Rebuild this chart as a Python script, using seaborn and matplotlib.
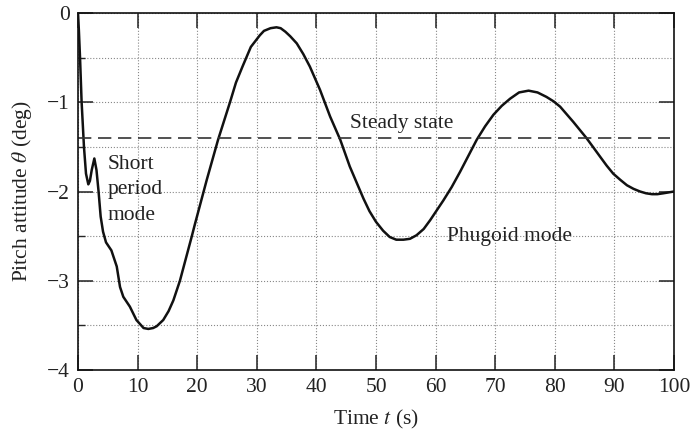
import numpy as np
import pandas as pd
import matplotlib
matplotlib.use("Agg")
import matplotlib.pyplot as plt
import seaborn as sns
from matplotlib.ticker import MultipleLocator

# values
time_s = [0, 0.15, 0.34, 0.6, 1.0, 1.34, 1.73, 2.0, 2.3, 2.74, 3.1, 3.45, 3.8,
          4.2, 4.7, 5.6, 6.5, 7.05, 7.6, 8.7, 9.8, 11.0, 11.8, 12.6, 13.2,
          14.3, 15.2, 16.0, 17.1, 17.7, 19.1, 19.6, 21.6, 23.5, 25.5, 26.5,
          27.6, 29.0, 30.5, 31.2, 32.3, 33.3, 34.0, 34.8, 35.6, 36.7, 37.8,
          38.9, 40.6, 42.3, 44.0, 45.6, 47.9, 48.9, 50.0, 51.2, 52.3, 53.4,
          54.6, 55.7, 56.8, 58.0, 59.1, 61.3, 62.7, 64.1, 65.5, 66.9, 68.3,
          69.7, 71.1, 72.5, 74.0, 75.6, 77.1, 78.6, 79.8, 80.9, 83.1, 85.3,
          86.4, 87.6, 88.7, 89.8, 91.0, 92.1, 93.2, 94.3, 95.3, 96.3, 97.2,
          98.2, 99.1, 100]
pitch_deg = [0, -0.2, -0.50, -0.99, -1.50, -1.80, -1.92, -1.88, -1.76, -1.63,
             -1.76, -2.00, -2.28, -2.45, -2.57, -2.66, -2.84, -3.07, -3.18,
             -3.29, -3.44, -3.53, -3.54, -3.53, -3.51, -3.44, -3.34, -3.22,
             -3.00, -2.85, -2.50, -2.37, -1.87, -1.42, -1.00, -0.78, -0.60,
             -0.38, -0.25, -0.20, -0.17, -0.16, -0.17, -0.21, -0.26, -0.34,
             -0.46, -0.60, -0.86, -1.16, -1.42, -1.72, -2.08, -2.22, -2.34,
             -2.44, -2.51, -2.54, -2.54, -2.53, -2.49, -2.42, -2.32, -2.10,
             -1.95, -1.78, -1.60, -1.42, -1.27, -1.14, -1.04, -0.96, -0.89,
             -0.87, -0.89, -0.94, -0.99, -1.05, -1.22, -1.40, -1.50, -1.61,
             -1.71, -1.80, -1.87, -1.93, -1.97, -2.00, -2.02, -2.03, -2.03,
             -2.02, -2.01, -2.00]
steady_state = -1.4

df = pd.DataFrame({"t": time_s, "theta": pitch_deg})

sns.set_style("ticks")
plt.rcParams["font.family"] = ["Liberation Serif", "DejaVu Serif"]
plt.rcParams["mathtext.fontset"] = "stix"

fig = plt.figure(figsize=(6.94, 4.34), dpi=100)
ax = fig.add_axes([0.1124, 0.1475, 0.8588, 0.8225])

sns.lineplot(data=df, x="t", y="theta", color="#111111", linewidth=1.8,
             sort=False, ax=ax)
ax.axhline(steady_state, xmin=0, xmax=0.993, color="#333333", linewidth=1.2,
           dashes=(8, 4))

ax.set_xlim(0, 100)
ax.set_ylim(-4, 0)
ax.xaxis.set_major_locator(MultipleLocator(10))
ax.yaxis.set_major_locator(MultipleLocator(1))
ax.yaxis.set_minor_locator(MultipleLocator(0.5))

ax.grid(True, which="major", axis="x", linestyle=":", color="#888888", linewidth=0.8)
ax.grid(True, which="both", axis="y", linestyle=":", color="#888888", linewidth=0.8)

ax.tick_params(which="major", direction="in", length=11, width=1.1,
               top=True, right=True, labelsize=15.5, pad=6, colors="#222222")
ax.tick_params(which="minor", direction="in", length=5, width=1.0,
               left=True, right=False)
for s in ax.spines.values():
    s.set_linewidth(1.2)
    s.set_color("#111111")

ax.set_xlabel(r"Time $t$ (s)", fontsize=15.5, color="#222222", labelpad=8)
ax.set_ylabel(r"Pitch attitude $\theta$ (deg)", fontsize=15.5, color="#222222",
              labelpad=9)

ax.text(45.6, -1.24, "Steady state", fontsize=15.5, va="center", ha="left",
        color="#222222")
ax.text(4.9, -1.98, "Short\nperiod\nmode", fontsize=15.5, va="center", ha="left",
        linespacing=1.45, color="#222222")
ax.text(61.9, -2.50, "Phugoid mode", fontsize=15.5, va="center", ha="left",
        color="#222222")

fig.savefig("out.png", dpi=100)
